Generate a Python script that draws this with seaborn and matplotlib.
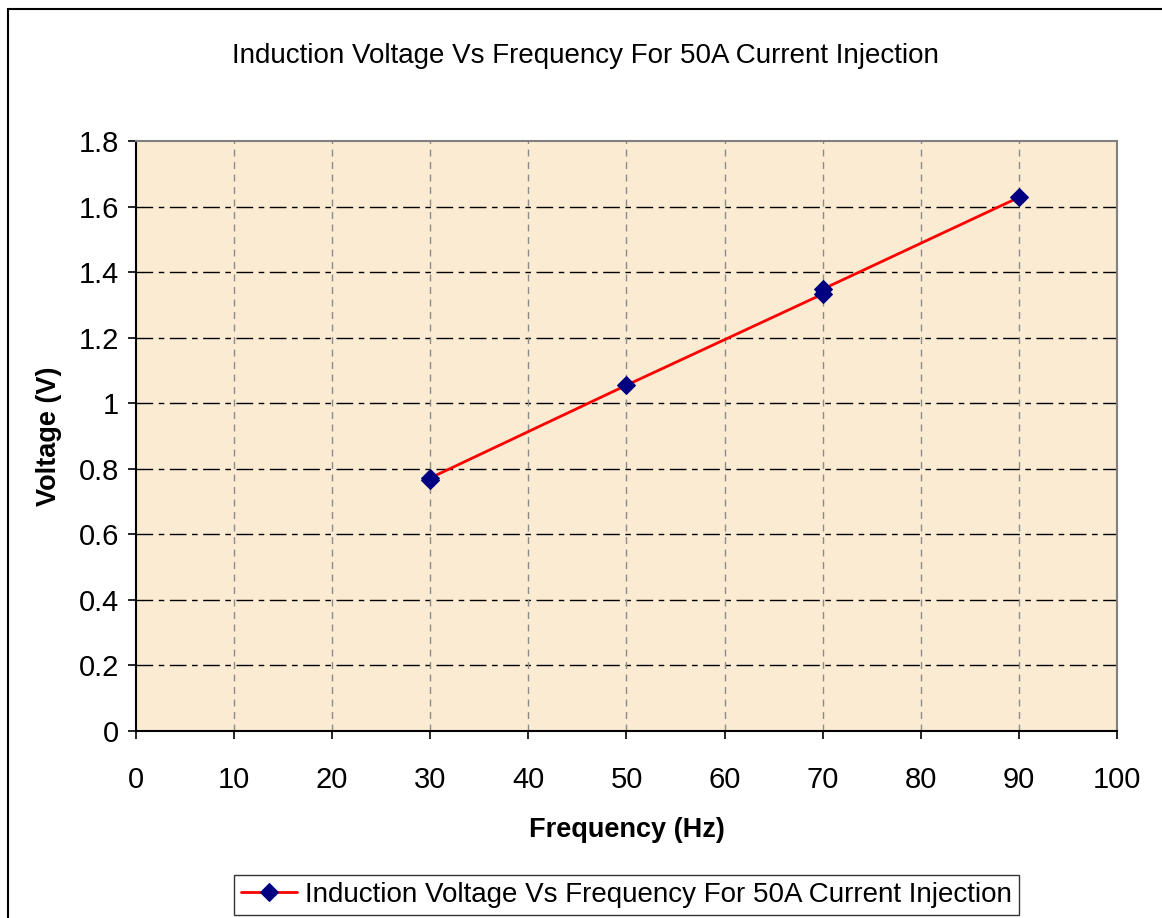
import matplotlib
matplotlib.use("Agg")
import matplotlib.pyplot as plt
import seaborn as sns
import pandas as pd
from matplotlib.patches import Rectangle

# data
freq = [30, 30, 50, 70, 70, 90]
voltage = [0.765, 0.772, 1.055, 1.333, 1.348, 1.628]
series_name = "Induction Voltage Vs Frequency For 50A Current Injection"
x_ticks = [0, 10, 20, 30, 40, 50, 60, 70, 80, 90, 100]
y_ticks = [0, 0.2, 0.4, 0.6, 0.8, 1, 1.2, 1.4, 1.6, 1.8]
y_ticklabels = ["0", "0.2", "0.4", "0.6", "0.8", "1", "1.2", "1.4", "1.6", "1.8"]

df = pd.DataFrame({"Frequency": freq, "Voltage": voltage})

sns.set_style("white")
plt.rcParams["font.family"] = ["Liberation Sans", "DejaVu Sans"]
plt.rcParams["text.color"] = "black"
plt.rcParams["axes.labelcolor"] = "black"
plt.rcParams["xtick.color"] = "black"
plt.rcParams["ytick.color"] = "black"

fig = plt.figure(figsize=(11.62, 9.18), dpi=100)
ax = fig.add_axes([0.117, 0.2037, 0.8443, 0.6427])
ax.set_facecolor("#FAEBD2")

sns.lineplot(data=df, x="Frequency", y="Voltage", ax=ax, color="red", lw=2,
             marker="D", markersize=9.5, markerfacecolor="#000080",
             markeredgecolor="#000080", estimator=None, sort=True,
             label=series_name, zorder=3)

ax.set_xlim(0, 100)
ax.set_ylim(0, 1.8)
ax.set_xticks(x_ticks)
ax.set_yticks(y_ticks)
ax.set_yticklabels(y_ticklabels)
ax.tick_params(axis="both", labelsize=21, direction="out", length=6, width=1.2,
               color="black", pad=6, left=True, bottom=True)
ax.tick_params(axis="x", pad=19)

# grid: black dash-dot horizontals, grey dashed verticals
for yv in y_ticks[1:-1]:
    ax.axhline(yv, color="black", lw=1, dashes=(12, 4, 4, 4), zorder=1)
for xv in x_ticks[1:-1]:
    ax.axvline(xv, color="#8c8c8c", lw=1, dashes=(5, 4), zorder=1)

for side in ["left", "bottom"]:
    ax.spines[side].set_color("black")
    ax.spines[side].set_linewidth(1.5)
for side in ["top", "right"]:
    ax.spines[side].set_color("#808080")
    ax.spines[side].set_linewidth(1.5)

ax.set_xlabel("Frequency (Hz)", fontsize=19.5, fontweight="bold", labelpad=17)
ax.set_ylabel("Voltage (V)", fontsize=19.5, fontweight="bold", labelpad=12)

fig.text(0.504, 0.9395, series_name, fontsize=20, ha="center", va="center")

leg = ax.legend(loc="center", bbox_to_anchor=(0.5, -0.278), fontsize=20,
                frameon=True, fancybox=False, handlelength=2.0,
                borderpad=0.25, handletextpad=0.3)
leg.get_frame().set_edgecolor("black")
leg.get_frame().set_linewidth(1)

# outer chart border
fig.patches.append(Rectangle((8 / 1162, -0.01), 1.02, 1 - 9 / 918 + 0.01,
                             transform=fig.transFigure, fill=False,
                             edgecolor="black", lw=1.5))

fig.savefig("out.png", dpi=100)
